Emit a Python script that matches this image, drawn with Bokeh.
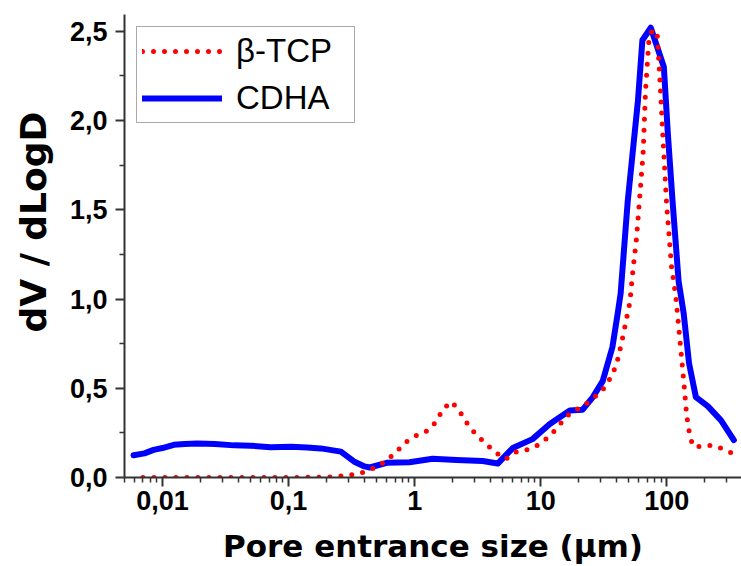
from bokeh.plotting import figure
from bokeh.models import (Legend, LegendItem, FixedTicker, CustomJSTickFormatter,
                          Title, Range1d)
from bokeh.embed import file_html
from bokeh.resources import INLINE

# ---- data ----
cdha_x = [0.0059, 0.0072, 0.0085, 0.0100, 0.0123, 0.015, 0.019, 0.026, 0.037, 0.05,
          0.072, 0.105, 0.14, 0.18, 0.26, 0.33, 0.40, 0.44, 0.6, 0.91, 1.39, 2.15,
          3.46, 4.56, 6.0, 8.6, 11.8, 17, 21.5, 25.9, 31, 37, 40.8, 43, 49, 59, 64,
          74.6, 94.7, 102, 111, 124, 136, 150, 170, 211, 269, 340]
cdha_y = [0.125, 0.135, 0.155, 0.165, 0.183, 0.188, 0.19, 0.188, 0.18, 0.178,
          0.17, 0.172, 0.168, 0.163, 0.145, 0.09, 0.062, 0.056, 0.082, 0.085, 0.105, 0.098,
          0.092, 0.078, 0.165, 0.215, 0.30, 0.375, 0.38, 0.45, 0.54, 0.73, 0.92, 1.03, 1.55, 2.11, 2.45,
          2.52, 2.30, 1.92, 1.55, 1.10, 0.92, 0.64, 0.45, 0.40, 0.32, 0.21]

tcp_x = [0.007, 0.01, 0.02, 0.05, 0.1, 0.2, 0.285, 0.348, 0.418, 0.50, 0.6, 0.73, 0.88,
         1.06, 1.29, 1.51, 1.66, 1.96, 2.28, 2.57, 2.99, 3.59, 4.39, 5.27, 6.41, 7.74,
         9.41, 11.4, 13.6, 15.8, 19.0, 23.1, 27.7, 32.8, 36.4, 39.8, 43.6, 47.3, 50.9,
         54, 57.5, 61.1, 64.9, 67.8, 72.4, 78, 83.9, 88, 93.4, 99.6, 109, 118, 127, 137,
         143.5, 152.5, 162, 186, 224, 272, 333]
tcp_y = [0.0, 0.0, 0.0, 0.0, 0.0, 0.002, 0.01, 0.02, 0.035, 0.06, 0.094, 0.15, 0.206,
         0.24, 0.265, 0.32, 0.38, 0.425, 0.37, 0.31, 0.25, 0.195, 0.14, 0.103, 0.144, 0.155,
         0.18, 0.224, 0.28, 0.34, 0.378, 0.415, 0.46, 0.51, 0.57, 0.63, 0.75, 0.87, 0.98,
         1.17, 1.34, 1.58, 1.82, 2.17, 2.47, 2.51, 2.48, 2.24, 1.89, 1.53, 1.18, 1.01, 0.77, 0.52,
         0.35, 0.23, 0.174, 0.174, 0.18, 0.163, 0.135]

x_major = [0.01, 0.1, 1, 10, 100]
x_minor = [k * 10.0 ** e for e in range(-3, 3) for k in range(2, 10)]
y_major = [0.0, 0.5, 1.0, 1.5, 2.0, 2.5]
y_minor = [0.25, 0.75, 1.25, 1.75, 2.25]

labels = ["\u03b2-TCP", "CDHA"]
x_title = "Pore entrance size (\u03bcm)"
y_title = "dV / dLogD"

p = figure(width=741, height=566, x_axis_type="log",
           x_range=Range1d(0.005, 391), y_range=Range1d(0, 2.594),
           output_backend="svg", toolbar_location=None,
           min_border_left=124, min_border_right=0, min_border_top=14, min_border_bottom=89)
p.title.visible = False
p.outline_line_color = None
p.xgrid.visible = False
p.ygrid.visible = False
p.background_fill_color = "white"
p.border_fill_color = "white"

for ax in (p.xaxis[0], p.yaxis[0]):
    ax.axis_line_color = "#333333"
    ax.axis_line_width = 2
    ax.major_tick_line_color = "#333333"
    ax.major_tick_line_width = 2
    ax.minor_tick_line_color = "#333333"
    ax.minor_tick_line_width = 1.5
    ax.major_tick_in = 0
    ax.major_tick_out = 9
    ax.minor_tick_in = 0
    ax.minor_tick_out = 5
    ax.major_label_text_font = "Liberation Sans"
    ax.major_label_text_font_size = "27px"
    ax.major_label_text_font_style = "bold"
    ax.major_label_text_color = "black"

p.xaxis.ticker = FixedTicker(ticks=x_major, minor_ticks=x_minor)
p.xaxis.formatter = CustomJSTickFormatter(code="return tick.toString().replace('.', ',');")
p.xaxis.major_label_standoff = 4
p.xaxis.axis_label = x_title
p.xaxis.axis_label_text_font = "DejaVu Sans"
p.xaxis.axis_label_text_font_size = "31px"
p.xaxis.axis_label_text_font_style = "bold"
p.xaxis.axis_label_text_color = "black"
p.xaxis.axis_label_standoff = 15

p.yaxis.ticker = FixedTicker(ticks=y_major, minor_ticks=y_minor)
p.yaxis.formatter = CustomJSTickFormatter(code="return tick.toFixed(1).replace('.', ',');")
p.yaxis.major_label_standoff = 8

ytitle = Title(text=y_title, align="left", offset=145, vertical_align="top",
               standoff=22, text_font="DejaVu Sans", text_font_size="36px",
               text_font_style="bold", text_color="black")
p.add_layout(ytitle, "left")

r_blue = p.line(cdha_x, cdha_y, line_color="#0000FF", line_width=6,
                line_join="round", line_cap="round")
r_red = p.line(tcp_x, tcp_y, line_color="#FF0000", line_width=5,
               line_dash="0 11", line_cap="round", line_join="round")

legend = Legend(items=[LegendItem(label=labels[0], renderers=[r_red]),
                       LegendItem(label=labels[1], renderers=[r_blue])],
                location="top_left", margin=12, padding=5, spacing=9,
                glyph_width=80, glyph_height=36, label_standoff=14, label_width=113,
                label_text_font="Liberation Sans", label_text_font_size="33px",
                label_text_color="black",
                border_line_color="#555555", border_line_width=1.5,
                background_fill_color="white", background_fill_alpha=1.0)
p.add_layout(legend)

open("out.html", "w").write(file_html(p, INLINE))
